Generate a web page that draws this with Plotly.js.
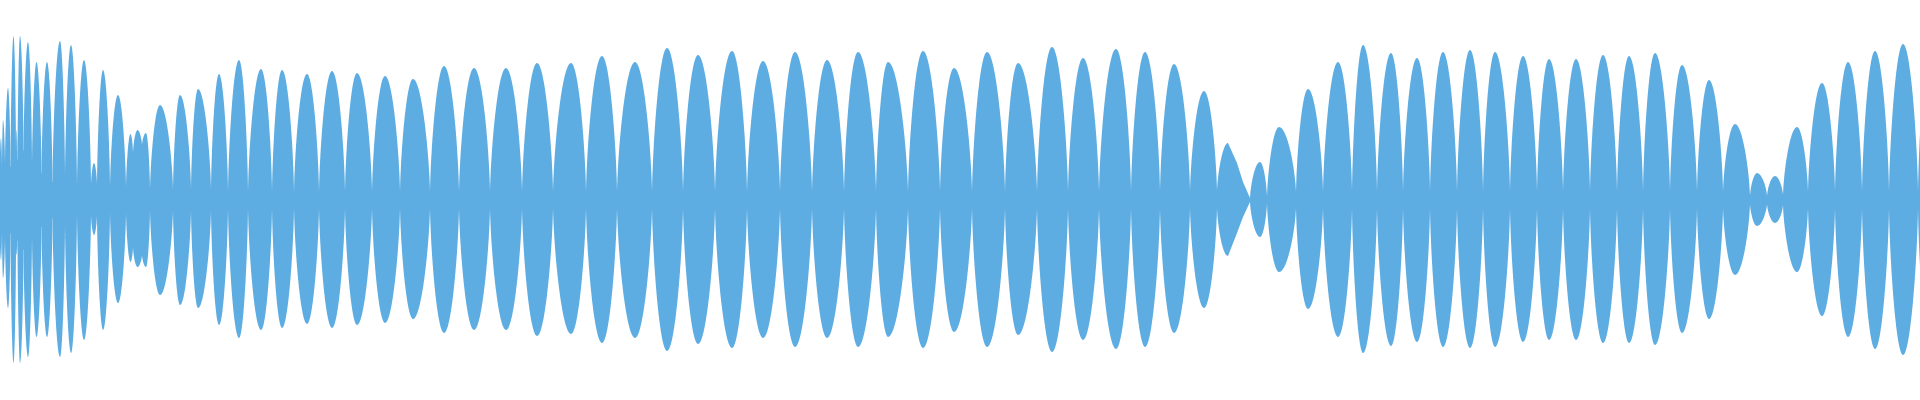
<!DOCTYPE html>
<html>
<head>
<meta charset="utf-8">
<script src="https://cdn.plot.ly/plotly-3.0.1.min.js"></script>
<style>
  html, body { margin: 0; padding: 0; background: #ffffff; }
  #chart { width: 1920px; height: 400px; }
</style>
</head>
<body>
<div id="chart"></div>
<script>
// Waveform envelope (x = time position, amplitude in display units, centre = 0)
const nodeX = [0, 2, 5, 10.5, 16, 17.5, 23.5, 32, 41.5, 52.5, 65, 77, 91, 97, 110, 126, 133, 142, 150, 173, 191, 211,
  228, 248, 272, 294, 319, 345, 372, 400, 430, 459, 490, 522, 553, 586, 617, 652, 683, 715, 747, 780,
  812, 844, 876, 908, 940, 972, 1005, 1037, 1068, 1099, 1131, 1160, 1190, 1217, 1250, 1267, 1296, 1323, 1352, 1377,
  1403, 1430, 1457, 1483, 1510, 1537, 1563, 1590, 1617, 1643, 1670, 1697, 1723, 1750, 1767, 1783, 1808, 1835, 1862, 1889,
  1918, 1942];
const nodeAmp = [45, 30, 35, 33, 45, 40, 50, 35, 27, 18, 23, 13, 15, 15, 12, 12, 47, 55, 10, 10, 10, 10,
  8, 8, 8, 8, 8, 8, 8, 8, 8, 8, 8, 8, 8, 8, 8, 8, 8, 8, 8, 8,
  8, 8, 8, 8, 8, 8, 8, 8, 8, 8, 8, 8, 8, 8, 2, 3, 8, 8, 8, 8,
  8, 8, 8, 8, 8, 8, 8, 8, 8, 8, 8, 8, 8, 4, 4, 5, 8, 8, 8, 8,
  8, 8];
const peakX = [1, 3, 8, 13.5, 16.7, 20, 28, 36.5, 47, 60, 71, 84, 94, 103, 118, 130.5, 137.5, 146, 160, 180, 198, 219,
  239, 261, 282, 307, 332, 357, 385, 413, 444, 474, 506, 537, 571, 602, 635, 667, 698, 732, 763, 795,
  827, 858, 888, 923, 954, 987, 1018, 1052, 1083, 1116, 1145, 1174, 1204, 1228, 1260, 1279, 1308, 1338, 1363, 1391,
  1417, 1443, 1470, 1495, 1523, 1549, 1576, 1603, 1629, 1655, 1682, 1709, 1735, 1757, 1775, 1797, 1822, 1848, 1875, 1903,
  1930];
const peakTop = [62, 80, 112, 164, 70, 164, 158, 138, 138, 159, 155, 140, 37, 130, 105, 66, 70, 67, 95, 105, 111, 126,
  140, 131, 130, 126, 129, 127, 124, 121, 134, 132, 132, 137, 137, 144, 138, 152, 145, 149, 139, 148,
  140, 148, 138, 149, 132, 148, 137, 153, 142, 151, 148, 136, 109, 57, 38, 73, 111, 138, 155, 147,
  142, 148, 150, 148, 144, 141, 141, 145, 144, 147, 135, 120, 76, 27, 24, 73, 117, 138, 149, 156,
  150];
const peakBottom = [60, 78, 108, 163, 55, 163, 157, 137, 137, 157, 153, 140, 35, 130, 103, 62, 67, 67, 95, 105, 108, 125,
  138, 130, 128, 124, 128, 125, 123, 119, 133, 130, 130, 136, 134, 143, 138, 151, 144, 148, 138, 147,
  138, 147, 137, 148, 132, 147, 135, 152, 140, 149, 147, 133, 108, 56, 37, 72, 109, 137, 153, 146,
  142, 147, 148, 147, 142, 140, 140, 143, 143, 145, 133, 119, 75, 26, 23, 72, 116, 137, 149, 155,
  150];
// extra envelope points inside the slowly decaying lobe
const shoulderX = [1237, 1243];
const shoulderTop = [37, 18];
const shoulderBottom = [33, 17];

const COLOR = '#5dade2';

// curve between a node and a peak of one lobe (rounded top, steep flank at the node)
function segment(A, B) {
  if (A.kind === 'node' && B.kind === 'peak') {
    const c1x = A.x + 0.05 * (B.x - A.x), c1y = A.y + 0.35 * (B.y - A.y);
    const c2x = B.x - 0.5 * (B.x - A.x), c2y = B.y;
    return ' C' + c1x + ',' + c1y + ' ' + c2x + ',' + c2y + ' ' + B.x + ',' + B.y;
  }
  if (A.kind === 'peak' && B.kind === 'node') {
    const c1x = A.x + 0.5 * (B.x - A.x), c1y = A.y;
    const c2x = B.x + 0.05 * (A.x - B.x), c2y = B.y + 0.35 * (A.y - B.y);
    return ' C' + c1x + ',' + c1y + ' ' + c2x + ',' + c2y + ' ' + B.x + ',' + B.y;
  }
  return ' L' + B.x + ',' + B.y;
}

const shapes = [];
for (let i = 0; i < peakX.length; i++) {
  const x0 = nodeX[i], x1 = nodeX[i + 1];
  const pts = [
    { x: x0, t: nodeAmp[i], b: nodeAmp[i], kind: 'node' },
    { x: peakX[i], t: peakTop[i], b: peakBottom[i], kind: 'peak' }
  ];
  shoulderX.forEach((sx, k) => {
    if (sx > x0 && sx < x1) pts.push({ x: sx, t: shoulderTop[k], b: shoulderBottom[k], kind: 'shoulder' });
  });
  pts.push({ x: x1, t: nodeAmp[i + 1], b: nodeAmp[i + 1], kind: 'node' });
  pts.sort((a, b) => a.x - b.x);
  const up = pts.map(p => ({ x: p.x, y: p.t, kind: p.kind }));
  const low = pts.map(p => ({ x: p.x, y: -p.b, kind: p.kind }));
  let d = 'M' + up[0].x + ',' + up[0].y;
  for (let j = 0; j < up.length - 1; j++) d += segment(up[j], up[j + 1]);
  const last = low[low.length - 1];
  d += ' L' + last.x + ',' + last.y;
  for (let j = low.length - 1; j > 0; j--) d += segment(low[j], low[j - 1]);
  d += ' Z';
  shapes.push({
    type: 'path', xref: 'x', yref: 'y', path: d,
    fillcolor: COLOR, line: { width: 0 }, layer: 'above'
  });
}

// thin centre band joining the lobes at the nodes
const band = {
  type: 'scatter', mode: 'lines',
  x: nodeX.concat(nodeX.slice().reverse()),
  y: nodeAmp.concat(nodeAmp.slice().reverse().map(v => -v)),
  fill: 'toself', fillcolor: COLOR,
  line: { width: 0, color: COLOR }, hoverinfo: 'skip', showlegend: false
};

const layout = {
  width: 1920, height: 400,
  margin: { l: 0, r: 0, t: 0, b: 0, pad: 0 },
  paper_bgcolor: '#ffffff', plot_bgcolor: '#ffffff',
  xaxis: { range: [0, 1920], visible: false, fixedrange: true },
  yaxis: { range: [-200, 200], visible: false, fixedrange: true },
  shapes: shapes,
  showlegend: false, hovermode: false
};
Plotly.newPlot('chart', [band], layout, { staticPlot: true, displayModeBar: false });
</script>
</body>
</html>
